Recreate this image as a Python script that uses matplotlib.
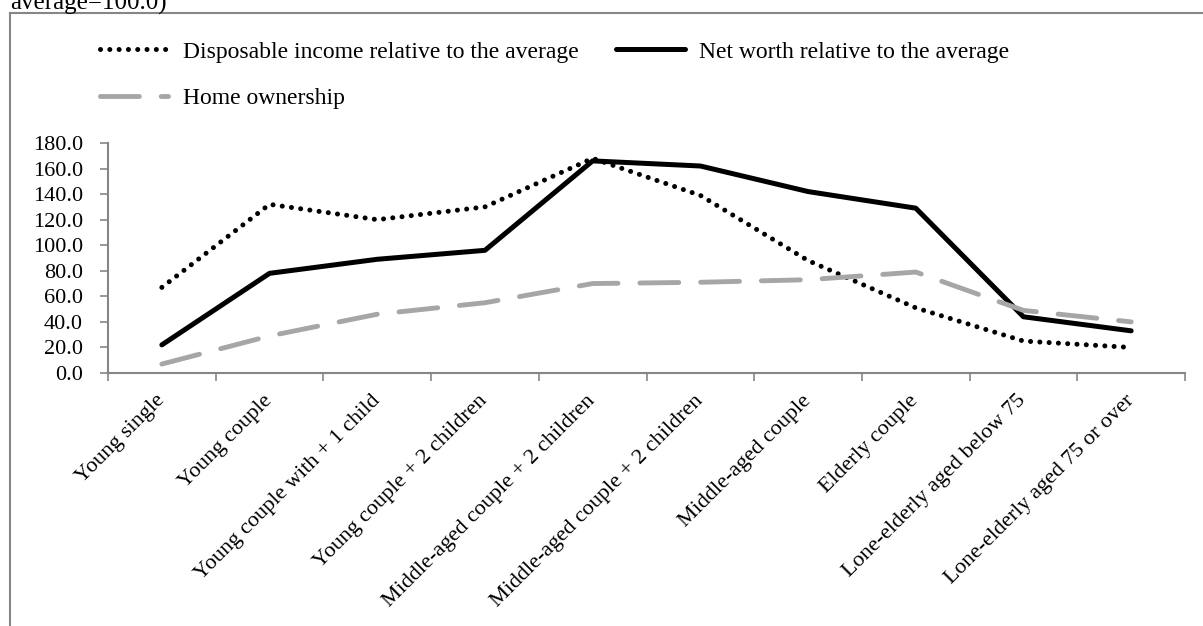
import matplotlib
matplotlib.use('Agg')
import matplotlib.pyplot as plt
from matplotlib.patches import Rectangle
from matplotlib.ticker import FormatStrFormatter
import numpy as np

plt.rcParams['font.family'] = ['Liberation Serif', 'DejaVu Serif']

categories = ['Young single', 'Young couple', 'Young couple with + 1 child',
              'Young couple + 2 children', 'Middle-aged couple + 2 children',
              'Middle-aged couple + 2 children', 'Middle-aged couple',
              'Elderly couple', 'Lone-elderly aged below 75',
              'Lone-elderly aged 75 or over']
income = [67, 132, 120, 130, 168, 139, 88, 51, 25, 20]
net_worth = [22, 78, 89, 96, 166, 162, 142, 129, 44, 33]
home_own = [7, 29, 46, 55, 70, 71, 73, 79, 49, 40]

W, H = 1203, 626
fig = plt.figure(figsize=(W / 100, H / 100), dpi=100)
ax = fig.add_axes([108 / W, 1 - 373 / H, (1185 - 108) / W, (373 - 143) / H])

gray = '#868686'
x = np.arange(len(categories))

l1, = ax.plot(x, income, color='black', lw=3.6, linestyle=(0, (0.01, 1.85)),
              dash_capstyle='round', label='Disposable income relative to the average')
l2, = ax.plot(x, net_worth, color='black', lw=3.6, solid_capstyle='round',
              label='Net worth relative to the average')
l3, = ax.plot(x, home_own, color='#a6a6a6', lw=3.5, linestyle=(0, (8, 4.5)),
              dash_capstyle='round', label='Home ownership')

ax.set_xlim(-0.5, len(categories) - 0.5)
ax.set_ylim(0, 180)
ax.set_yticks(np.arange(0, 181, 20))
ax.yaxis.set_major_formatter(FormatStrFormatter('%.1f'))

ax.set_xticks(x)
ax.set_xticklabels(categories, rotation=45, ha='right', va='center',
                   rotation_mode='anchor')
ax.set_xticks(np.arange(-0.5, len(categories), 1), minor=True)
ax.tick_params(axis='x', which='major', length=0, pad=18, labelsize=16)
ax.tick_params(axis='x', which='minor', length=6, width=1.2, color=gray)
ax.tick_params(axis='y', length=6, width=1.2, color=gray, pad=12, labelsize=16)

for s in ['top', 'right']:
    ax.spines[s].set_visible(False)
for s in ['left', 'bottom']:
    ax.spines[s].set_color(gray)
    ax.spines[s].set_linewidth(1.5)

# outer chart border (cut off at the right and bottom)
fig.patches.append(Rectangle((10 / W, -0.05), 1.2, 1.05 - 13 / H,
                             transform=fig.transFigure, fill=False,
                             edgecolor=gray, lw=1.5))

fig.text(10 / W, 1 - 10 / H, 'average=100.0)', fontsize=18, va='baseline', ha='left')

# row-wise order: income, net worth / home ownership
fig.legend([l1, l3, l2], [l1.get_label(), l3.get_label(), l2.get_label()],
           loc='upper left', bbox_to_anchor=(100 / W, 1 - 41 / H), ncol=2,
           frameon=False, fontsize=17, handlelength=2.9, handletextpad=0.6,
           columnspacing=1.6, labelspacing=1.05, borderpad=0, borderaxespad=0)

fig.savefig('out.png', dpi=100)
